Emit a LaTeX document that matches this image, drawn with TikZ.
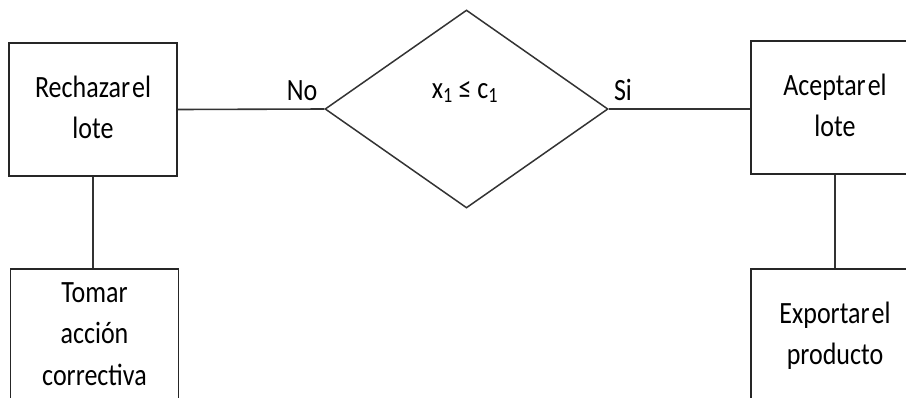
\documentclass[tikz,border=0pt]{standalone}
\usepackage{fontspec}
\setmainfont{Carlito}
\usepackage{graphicx}
\usetikzlibrary{shapes.geometric}

% text set a little taller than wide
\newcommand\tallstack[1]{\scalebox{1}[1.19]{\begin{tabular}{@{}c@{}}#1\end{tabular}}}

\begin{document}
\begin{tikzpicture}[x=1pt,y=-1pt,
  every node/.style={font=\fontsize{26}{35}\selectfont, text=black},
  stepbox/.style={draw=black!85, line width=1.6pt, rectangle,
    minimum width=168pt, minimum height=133pt, inner sep=0pt},
  decision/.style={draw=black!80, line width=1.5pt, diamond,
    minimum width=283pt, minimum height=198pt, inner sep=0pt},
  link/.style={draw=black!80, line width=1.6pt},
  branch/.style={inner sep=0pt, anchor=base}]
\useasboundingbox (0,0) rectangle (906,397);

% decision
\node[decision] (d) at (466.5,109) {};
\node[inner sep=0pt, anchor=base] (dt) at (465,98)
  {\scalebox{1}[1.19]{x\textsubscript{1} ≤ c\textsubscript{1}}};

% outcome boxes
\node[stepbox] (rej) at (93,109.5) {\tallstack{Rechazar\hspace{-0.15em} el\\lote}};
\node[stepbox] (acc) at (835,107.5) {\tallstack{Aceptar\hspace{-0.15em} el\\lote}};
\node[stepbox] (act) at (94.5,335.5) {\tallstack{Tomar\\acción\\correctiva}};
\node[stepbox] (exp) at (835,335.5) {\tallstack{Exportar\hspace{-0.15em} el\\producto}};

% branch labels
\node[branch] (no) at (302,100) {\scalebox{1}[1.19]{No}};
\node[branch] (si) at (623,100) {\scalebox{1}[1.19]{Si}};

% connectors
\draw[link] (rej.east) -- (d.west);
\draw[link] (d.east) -- (d.east -| acc.west);
\draw[link] (rej.south) -- (rej.south |- act.north);
\draw[link] (acc.south) -- (exp.north);
\end{tikzpicture}
\end{document}
